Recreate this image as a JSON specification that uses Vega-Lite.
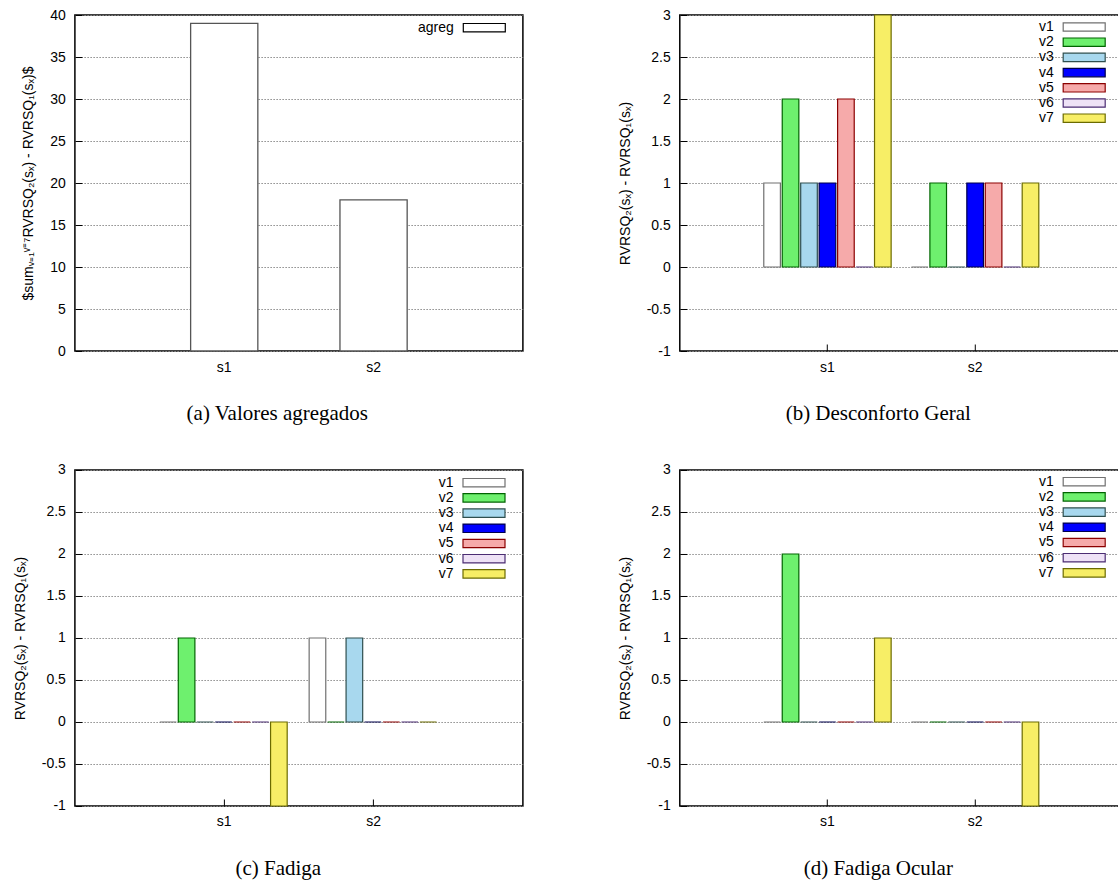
{
  "$schema": "https://vega.github.io/schema/vega-lite/v6.json",
  "background": "white",
  "padding": {"left": 11.9, "top": 7, "right": 0, "bottom": 0},
  "datasets": {
    "agreg": [
      {"s": "s1", "serie": "agreg", "valor": 39},
      {"s": "s2", "serie": "agreg", "valor": 18}
    ],
    "geral": [
      {"s": "s1", "v": "v1", "valor": 1}, {"s": "s1", "v": "v2", "valor": 2}, {"s": "s1", "v": "v3", "valor": 1}, {"s": "s1", "v": "v4", "valor": 1}, {"s": "s1", "v": "v5", "valor": 2}, {"s": "s1", "v": "v6", "valor": 0}, {"s": "s1", "v": "v7", "valor": 3},
      {"s": "s2", "v": "v1", "valor": 0}, {"s": "s2", "v": "v2", "valor": 1}, {"s": "s2", "v": "v3", "valor": 0}, {"s": "s2", "v": "v4", "valor": 1}, {"s": "s2", "v": "v5", "valor": 1}, {"s": "s2", "v": "v6", "valor": 0}, {"s": "s2", "v": "v7", "valor": 1}
    ],
    "fadiga": [
      {"s": "s1", "v": "v1", "valor": 0}, {"s": "s1", "v": "v2", "valor": 1}, {"s": "s1", "v": "v3", "valor": 0}, {"s": "s1", "v": "v4", "valor": 0}, {"s": "s1", "v": "v5", "valor": 0}, {"s": "s1", "v": "v6", "valor": 0}, {"s": "s1", "v": "v7", "valor": -1},
      {"s": "s2", "v": "v1", "valor": 1}, {"s": "s2", "v": "v2", "valor": 0}, {"s": "s2", "v": "v3", "valor": 1}, {"s": "s2", "v": "v4", "valor": 0}, {"s": "s2", "v": "v5", "valor": 0}, {"s": "s2", "v": "v6", "valor": 0}, {"s": "s2", "v": "v7", "valor": 0}
    ],
    "ocular": [
      {"s": "s1", "v": "v1", "valor": 0}, {"s": "s1", "v": "v2", "valor": 2}, {"s": "s1", "v": "v3", "valor": 0}, {"s": "s1", "v": "v4", "valor": 0}, {"s": "s1", "v": "v5", "valor": 0}, {"s": "s1", "v": "v6", "valor": 0}, {"s": "s1", "v": "v7", "valor": 1},
      {"s": "s2", "v": "v1", "valor": 0}, {"s": "s2", "v": "v2", "valor": 0}, {"s": "s2", "v": "v3", "valor": 0}, {"s": "s2", "v": "v4", "valor": 0}, {"s": "s2", "v": "v5", "valor": 0}, {"s": "s2", "v": "v6", "valor": 0}, {"s": "s2", "v": "v7", "valor": -1}
    ]
  },
  "config": {
    "font": "Liberation Sans",
    "view": {"stroke": "#000000", "strokeWidth": 1.5},
    "axis": {
      "domain": false,
      "labelFont": "Liberation Sans", "labelFontSize": 14, "labelColor": "#000000",
      "titleFont": "Liberation Sans", "titleFontSize": 14, "titleFontWeight": "normal", "titleColor": "#000000",
      "tickColor": "#000000", "tickSize": -7, "tickWidth": 1
    },
    "axisY": {"grid": true, "gridColor": "#8c8c8c", "gridDash": [1.5, 1.5], "gridWidth": 1, "labelPadding": 16.5, "titlePadding": 14},
    "axisX": {"grid": false, "labelPadding": 16, "labelAngle": 0},
    "legend": {
      "title": null, "orient": "none", "padding": 0,
      "symbolType": "M-4.2,-0.84L4.2,-0.84L4.2,0.84L-4.2,0.84Z", "symbolSize": 100, "symbolStrokeWidth": 1.2, "symbolOpacity": 1, "symbolOffset": 14,
      "labelAlign": "right", "labelOffset": -37.5, "rowPadding": 1.2,
      "labelFont": "Liberation Sans", "labelFontSize": 14, "labelColor": "#000000"
    },
    "title": {"font": "Liberation Serif", "fontSize": 21, "fontWeight": "normal", "color": "#000000", "orient": "bottom", "anchor": "middle", "frame": "group", "offset": 29, "baseline": "top"}
  },
  "columns": 2,
  "align": "none",
  "spacing": {"row": 37, "column": 92.9},
  "resolve": {"scale": {"fill": "independent", "stroke": "independent"}, "legend": {"fill": "independent", "stroke": "independent"}},
  "concat": [
    {
      "width": 448, "height": 336,
      "data": {"name": "agreg"},
      "title": {"text": "(a)  Valores agregados", "dx": -21.6},
      "mark": {"type": "bar", "stroke": "#555555", "strokeWidth": 1.3},
      "encoding": {
        "x": {"field": "s", "type": "nominal", "scale": {"domain": ["s1", "s2"], "paddingInner": 0.55, "paddingOuter": 0.775}, "axis": {"title": null}},
        "y": {"field": "valor", "type": "quantitative", "scale": {"domain": [0, 40], "nice": false}, "axis": {"values": [0, 5, 10, 15, 20, 25, 30, 35, 40], "title": "$sumᵥ₌₁ᵛ⁼⁷RVRSQ₂(sₓ) - RVRSQ₁(sₓ)$"}},
        "fill": {"field": "serie", "type": "nominal", "scale": {"domain": ["agreg"], "range": ["#ffffff"]}, "legend": {"legendX": 388.4, "legendY": 5.7, "symbolStrokeColor": "#000000"}}
      }
    },
    {
      "width": 443, "height": 336,
      "data": {"name": "geral"},
      "title": {"text": "(b)  Desconforto Geral", "dx": -23},
      "mark": {"type": "bar", "strokeWidth": 1.2},
      "encoding": {
        "x": {"field": "s", "type": "nominal", "scale": {"domain": ["s1", "s2"], "paddingInner": 0.125, "paddingOuter": 0.5625}, "axis": {"title": null}},
        "xOffset": {"field": "v", "type": "nominal", "scale": {"domain": ["v1", "v2", "v3", "v4", "v5", "v6", "v7"], "paddingInner": 0.1, "paddingOuter": 0.05}},
        "y": {"field": "valor", "type": "quantitative", "scale": {"domain": [-1, 3], "nice": false}, "axis": {"values": [-1, -0.5, 0, 0.5, 1, 1.5, 2, 2.5, 3], "labelExpr": "'' + datum.value", "title": "RVRSQ₂(sₓ) - RVRSQ₁(sₓ)"}},
        "fill": {"field": "v", "type": "nominal", "scale": {"domain": ["v1", "v2", "v3", "v4", "v5", "v6", "v7"], "range": ["#ffffff", "#6ef06e", "#a8d8ee", "#0000ff", "#f6aaaa", "#eee2f6", "#f7ee66"]}, "legend": {"legendX": 383.4, "legendY": 5}},
        "stroke": {"field": "v", "type": "nominal", "scale": {"domain": ["v1", "v2", "v3", "v4", "v5", "v6", "v7"], "range": ["#707070", "#006400", "#2f4f4f", "#00004d", "#8b0000", "#4b2d73", "#6b6b00"]}, "legend": {"legendX": 383.4, "legendY": 5}}
      }
    },
    {
      "width": 448, "height": 336,
      "data": {"name": "fadiga"},
      "title": {"text": "(c)  Fadiga", "dx": -20.6},
      "mark": {"type": "bar", "strokeWidth": 1.2},
      "encoding": {
        "x": {"field": "s", "type": "nominal", "scale": {"domain": ["s1", "s2"], "paddingInner": 0.125, "paddingOuter": 0.5625}, "axis": {"title": null}},
        "xOffset": {"field": "v", "type": "nominal", "scale": {"domain": ["v1", "v2", "v3", "v4", "v5", "v6", "v7"], "paddingInner": 0.1, "paddingOuter": 0.05}},
        "y": {"field": "valor", "type": "quantitative", "scale": {"domain": [-1, 3], "nice": false}, "axis": {"values": [-1, -0.5, 0, 0.5, 1, 1.5, 2, 2.5, 3], "labelExpr": "'' + datum.value", "title": "RVRSQ₂(sₓ) - RVRSQ₁(sₓ)"}},
        "fill": {"field": "v", "type": "nominal", "scale": {"domain": ["v1", "v2", "v3", "v4", "v5", "v6", "v7"], "range": ["#ffffff", "#6ef06e", "#a8d8ee", "#0000ff", "#f6aaaa", "#eee2f6", "#f7ee66"]}, "legend": {"legendX": 388.1, "legendY": 5.7}},
        "stroke": {"field": "v", "type": "nominal", "scale": {"domain": ["v1", "v2", "v3", "v4", "v5", "v6", "v7"], "range": ["#707070", "#006400", "#2f4f4f", "#00004d", "#8b0000", "#4b2d73", "#6b6b00"]}, "legend": {"legendX": 388.1, "legendY": 5.7}}
      }
    },
    {
      "width": 443, "height": 336,
      "data": {"name": "ocular"},
      "title": {"text": "(d)  Fadiga Ocular", "dx": -23},
      "mark": {"type": "bar", "strokeWidth": 1.2},
      "encoding": {
        "x": {"field": "s", "type": "nominal", "scale": {"domain": ["s1", "s2"], "paddingInner": 0.125, "paddingOuter": 0.5625}, "axis": {"title": null}},
        "xOffset": {"field": "v", "type": "nominal", "scale": {"domain": ["v1", "v2", "v3", "v4", "v5", "v6", "v7"], "paddingInner": 0.1, "paddingOuter": 0.05}},
        "y": {"field": "valor", "type": "quantitative", "scale": {"domain": [-1, 3], "nice": false}, "axis": {"values": [-1, -0.5, 0, 0.5, 1, 1.5, 2, 2.5, 3], "labelExpr": "'' + datum.value", "title": "RVRSQ₂(sₓ) - RVRSQ₁(sₓ)"}},
        "fill": {"field": "v", "type": "nominal", "scale": {"domain": ["v1", "v2", "v3", "v4", "v5", "v6", "v7"], "range": ["#ffffff", "#6ef06e", "#a8d8ee", "#0000ff", "#f6aaaa", "#eee2f6", "#f7ee66"]}, "legend": {"legendX": 383.4, "legendY": 4.7}},
        "stroke": {"field": "v", "type": "nominal", "scale": {"domain": ["v1", "v2", "v3", "v4", "v5", "v6", "v7"], "range": ["#707070", "#006400", "#2f4f4f", "#00004d", "#8b0000", "#4b2d73", "#6b6b00"]}, "legend": {"legendX": 383.4, "legendY": 4.7}}
      }
    }
  ]
}
